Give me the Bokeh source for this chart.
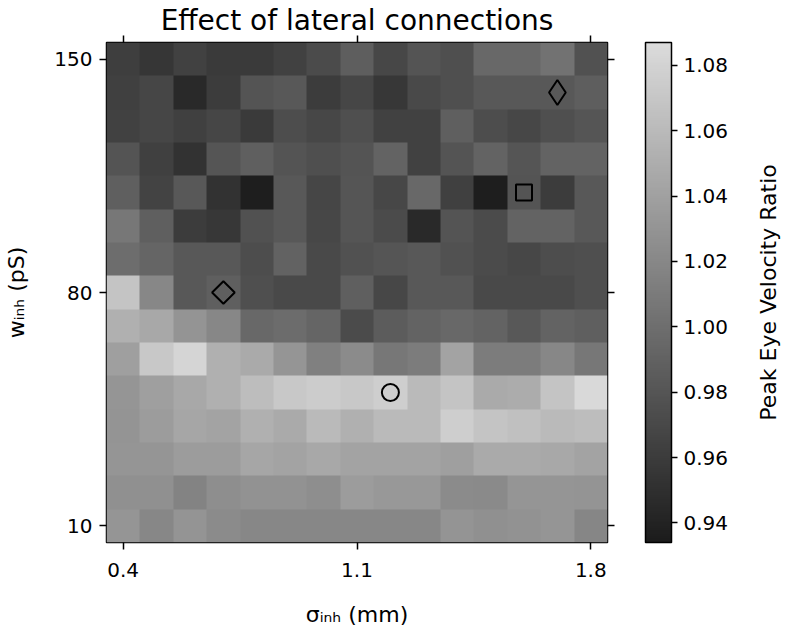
import numpy as np
from bokeh.plotting import figure
from bokeh.layouts import row
from bokeh.models import (LinearColorMapper, ColorBar, FixedTicker, LinearAxis,
                          Label, Range1d, CustomLabelingPolicy)
from bokeh.embed import file_html
from bokeh.resources import INLINE

# ---- data -------------------------------------------------------------
sigma_inh = [0.4, 0.5, 0.6, 0.7, 0.8, 0.9, 1.0, 1.1, 1.2, 1.3, 1.4, 1.5, 1.6, 1.7, 1.8]
w_inh_top_to_bottom = [150, 140, 130, 120, 110, 100, 90, 80, 70, 60, 50, 40, 30, 20, 10]

# Peak eye velocity ratio, one row per w_inh (top row = 150 pS)
row_150 = [0.962, 0.955, 0.964, 0.958, 0.958, 0.964, 0.972, 0.987, 0.969, 0.979, 0.975, 0.995, 0.995, 1.003, 0.977]
row_140 = [0.963, 0.968, 0.945, 0.960, 0.979, 0.983, 0.960, 0.968, 0.956, 0.971, 0.975, 0.983, 0.983, 0.983, 0.987]
row_130 = [0.964, 0.968, 0.963, 0.968, 0.958, 0.974, 0.969, 0.975, 0.964, 0.964, 0.988, 0.974, 0.969, 0.975, 0.980]
row_120 = [0.979, 0.963, 0.952, 0.980, 0.988, 0.979, 0.975, 0.979, 0.991, 0.964, 0.979, 0.991, 0.980, 0.991, 0.991]
row_110 = [0.988, 0.966, 0.982, 0.952, 0.936, 0.983, 0.968, 0.980, 0.969, 0.995, 0.963, 0.936, 0.979, 0.960, 0.982]
row_100 = [1.007, 0.988, 0.960, 0.956, 0.977, 0.983, 0.969, 0.980, 0.972, 0.945, 0.979, 0.972, 0.991, 0.991, 0.983]
row_90 = [0.999, 0.993, 0.982, 0.982, 0.974, 0.990, 0.971, 0.977, 0.980, 0.983, 0.977, 0.972, 0.969, 0.974, 0.975]
row_80 = [1.068, 1.020, 0.982, 0.988, 0.975, 0.971, 0.971, 0.988, 0.969, 0.983, 0.983, 0.971, 0.971, 0.971, 0.975]
row_70 = [1.052, 1.046, 1.030, 1.020, 0.995, 0.998, 0.993, 0.972, 0.985, 0.991, 0.995, 0.991, 0.982, 0.991, 0.988]
row_60 = [1.039, 1.071, 1.082, 1.052, 1.047, 1.031, 1.014, 1.023, 1.007, 1.011, 1.042, 1.011, 1.011, 1.020, 1.007]
row_50 = [1.031, 1.039, 1.046, 1.052, 1.063, 1.071, 1.074, 1.071, 1.076, 1.060, 1.068, 1.047, 1.049, 1.068, 1.085]
row_40 = [1.030, 1.036, 1.044, 1.042, 1.052, 1.047, 1.060, 1.052, 1.060, 1.060, 1.076, 1.068, 1.065, 1.060, 1.063]
row_30 = [1.031, 1.031, 1.036, 1.036, 1.044, 1.042, 1.046, 1.042, 1.042, 1.042, 1.039, 1.047, 1.047, 1.046, 1.042]
row_20 = [1.027, 1.027, 1.017, 1.025, 1.028, 1.028, 1.025, 1.036, 1.033, 1.033, 1.023, 1.022, 1.031, 1.031, 1.030]
row_10 = [1.031, 1.020, 1.030, 1.023, 1.020, 1.020, 1.020, 1.020, 1.020, 1.020, 1.030, 1.027, 1.028, 1.031, 1.019]

color_low, color_high = 0.934, 1.087
x_ticks = [0.4, 1.1, 1.8]
y_ticks = [10, 80, 150]
cbar_ticks = [0.94, 0.96, 0.98, 1.00, 1.02, 1.04, 1.06, 1.08]

# highlighted parameter sets
circle_x, circle_y = [1.2], [50]
square_x, square_y = [1.6], [110]
diamond_x, diamond_y = [0.7], [80]
thin_diamond_x, thin_diamond_y = [1.7], [140]

# ---- figure -------------------------------------------------------------
rows = [row_150, row_140, row_130, row_120, row_110, row_100, row_90, row_80,
        row_70, row_60, row_50, row_40, row_30, row_20, row_10]
grid = np.flipud(np.array(rows))  # bottom row first for image glyph

dx = sigma_inh[1] - sigma_inh[0]
dy = w_inh_top_to_bottom[0] - w_inh_top_to_bottom[1]
x0 = min(sigma_inh) - dx / 2
x1 = max(sigma_inh) + dx / 2
y0 = min(w_inh_top_to_bottom) - dy / 2
y1 = max(w_inh_top_to_bottom) + dy / 2

FONT = "DejaVu Sans"
palette = ["#%02x%02x%02x" % (v, v, v) for v in np.linspace(28, 220, 256).astype(int)]
mapper = LinearColorMapper(palette=palette, low=color_low, high=color_high)

LEFT, FRAME_W, FRAME_H, TOP, BOTTOM, RIGHT = 106, 501, 500, 42, 89, 134
LABEL_W = 786 - (LEFT + FRAME_W + RIGHT)

p = figure(frame_width=FRAME_W, frame_height=FRAME_H,
           x_range=Range1d(x0, x1), y_range=Range1d(y0, y1),
           output_backend="svg", toolbar_location=None,
           min_border_left=LEFT, min_border_right=RIGHT,
           min_border_top=TOP, min_border_bottom=BOTTOM)

p.image(image=[grid], x=x0, y=y0, dw=x1 - x0, dh=y1 - y0, color_mapper=mapper)

p.scatter(circle_x, circle_y, marker="circle", size=17, fill_color=None,
          line_color="black", line_width=2)
p.scatter(square_x, square_y, marker="square", size=16, fill_color=None,
          line_color="black", line_width=2)
p.scatter(diamond_x, diamond_y, marker="square", size=16, angle=np.pi / 4,
          fill_color=None, line_color="black", line_width=2)
p.scatter(thin_diamond_x, thin_diamond_y, marker="diamond", size=25,
          fill_color=None, line_color="black", line_width=2)

p.xgrid.visible = False
p.ygrid.visible = False
p.outline_line_color = "black"
p.outline_line_width = 1.5
p.background_fill_color = None


def style_axis(ax, labels=True):
    ax.axis_line_color = None
    ax.major_tick_line_color = "black"
    ax.major_tick_line_width = 1.5
    ax.major_tick_out = 7
    ax.major_tick_in = 0
    ax.minor_tick_line_color = None
    ax.major_label_text_font = FONT
    ax.major_label_text_font_size = "20px"
    ax.major_label_text_color = "black"
    ax.axis_label_text_font = FONT
    ax.axis_label_text_font_size = "22px"
    ax.axis_label_text_font_style = "normal"
    ax.axis_label_text_color = "black"
    if not labels:
        ax.major_label_policy = CustomLabelingPolicy(code="return []")
        ax.major_label_text_font_size = "1px"
        ax.major_label_standoff = 0


p.xaxis.ticker = FixedTicker(ticks=x_ticks)
p.xaxis.major_label_overrides = {t: f"{t:.1f}" for t in x_ticks}
p.yaxis.ticker = FixedTicker(ticks=y_ticks)
p.xaxis.axis_label = "σᵢₙₕ (mm)"
p.yaxis.axis_label = "wᵢₙₕ (pS)"
style_axis(p.xaxis[0])
style_axis(p.yaxis[0])
p.xaxis.major_label_standoff = 13
p.yaxis.major_label_standoff = 7
p.xaxis.axis_label_standoff = 22
p.yaxis.axis_label_standoff = 22

# top axis: ticks only, carries the chart title as its label
top_ax = LinearAxis(ticker=FixedTicker(ticks=x_ticks),
                    axis_label="Effect of lateral connections")
style_axis(top_ax, labels=False)
top_ax.axis_label_text_font_size = "28px"
top_ax.axis_label_standoff = -5
p.add_layout(top_ax, "above")

right_ax = LinearAxis(ticker=FixedTicker(ticks=y_ticks))
style_axis(right_ax, labels=False)
p.add_layout(right_ax, "right")

cbar = ColorBar(color_mapper=mapper, ticker=FixedTicker(ticks=cbar_ticks),
                width=26, height=FRAME_H, padding=0, margin=0,
                location=(26, 0),
                bar_line_color="black", bar_line_width=1.5,
                major_tick_line_color="black", major_tick_line_width=1.5,
                major_tick_out=6, major_tick_in=0,
                minor_tick_line_color=None,
                label_standoff=6,
                major_label_text_font=FONT,
                major_label_text_font_size="20px",
                major_label_text_color="black",
                background_fill_color=None, border_line_color=None)
cbar.major_label_overrides = {t: f"{t:.2f}" for t in cbar_ticks}
p.add_layout(cbar, "right")

# narrow companion figure carrying the colour-bar title (reads bottom-to-top)
q = figure(width=LABEL_W, frame_height=FRAME_H, x_range=Range1d(0, 1),
           y_range=Range1d(0, 1),
           output_backend="svg", toolbar_location=None,
           min_border_left=0, min_border_right=0, min_border_top=TOP,
           min_border_bottom=BOTTOM)
q.axis.visible = False
q.xgrid.visible = False
q.ygrid.visible = False
q.outline_line_color = None
q.background_fill_color = None
q.add_layout(Label(x=768 - (LEFT + FRAME_W + RIGHT), y=FRAME_H / 2,
                   x_units="screen", y_units="screen",
                   text="Peak Eye Velocity Ratio", angle=np.pi / 2,
                   text_align="center", text_baseline="middle",
                   text_font=FONT, text_font_size="22px", text_color="black"))

layout = row(p, q)
open("out.html", "w").write(file_html(layout, INLINE))
